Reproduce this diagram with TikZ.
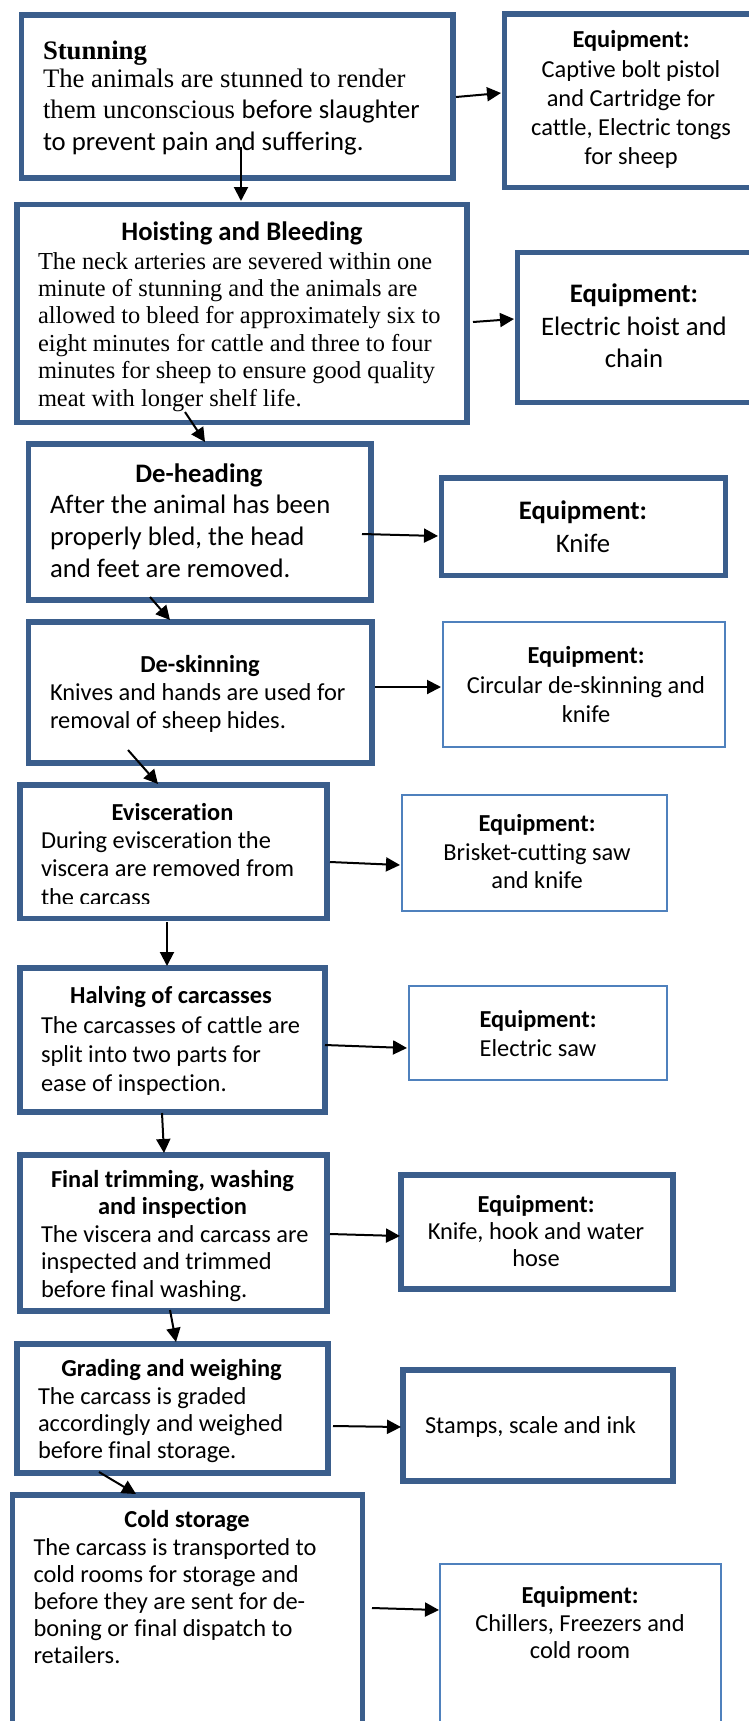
\documentclass[tikz,border=0pt]{standalone}
\usepackage{fontspec}
\setmainfont{Liberation Serif}
\newfontfamily\calibri[Ligatures=NoCommon]{Carlito}
\usetikzlibrary{arrows.meta}
\definecolor{boxblue}{RGB}{59,94,140}
\definecolor{thinblue}{RGB}{79,129,189}
\tikzset{
  tb/.style={draw=boxblue, line width=5.5pt, inner sep=0pt, outer sep=0pt, anchor=north west},
  nb/.style={draw=thinblue, line width=2.6pt, inner sep=0pt, outer sep=0pt, anchor=north west},
  flow/.style={line width=2pt, -{Triangle[length=14pt,width=14pt]}},
  txt/.style={inner sep=0pt, outer sep=0pt},
  cal/.style={txt, font={\calibri\fontsize{24.4}{#1}\selectfont}},
  cal/.default=28,
  calb/.style={txt, font={\calibri\bfseries\fontsize{24.4}{#1}\selectfont}},
  calb/.default=28,
  calL/.style={txt, font={\calibri\fontsize{26.7}{#1}\selectfont}},
  calL/.default=32,
  calLb/.style={txt, font={\calibri\bfseries\fontsize{26.7}{#1}\selectfont}},
  calLb/.default=32,
}
\begin{document}
\begin{tikzpicture}[x=1pt,y=-1pt]
\useasboundingbox (0,0) rectangle (749,1721);
% ---------- boxes ----------
\node[tb, minimum width=431.5pt, minimum height=163pt] (b1) at (21.5,15) {};
\node[tb, minimum width=270pt, minimum height=173.5pt] (e1) at (504.5,14) {};
\node[tb, minimum width=450pt, minimum height=218pt] (b2) at (17,204.5) {};
\node[tb, minimum width=258pt, minimum height=150pt] (e2) at (517.5,252.5) {};
\node[tb, minimum width=342.5pt, minimum height=156pt] (b3) at (28.5,444) {};
\node[tb, minimum width=284pt, minimum height=97.5pt] (e3) at (441.5,478) {};
\node[tb, minimum width=343.5pt, minimum height=141pt] (b4) at (28.5,622) {};
\node[nb, minimum width=282pt, minimum height=125pt] (e4) at (443,622) {};
\node[tb, minimum width=307pt, minimum height=133.5pt] (b5) at (20,785) {};
\node[nb, minimum width=265pt, minimum height=116pt] (e5) at (402,795) {};
\node[tb, minimum width=305pt, minimum height=144pt] (b6) at (20,968) {};
\node[nb, minimum width=258pt, minimum height=94pt] (e6) at (409,986) {};
\node[tb, minimum width=307pt, minimum height=156pt] (b7) at (20,1155) {};
\node[tb, minimum width=272pt, minimum height=114pt] (e7) at (401,1175) {};
\node[tb, minimum width=311pt, minimum height=129pt] (b8) at (17,1344) {};
\node[tb, minimum width=270pt, minimum height=111pt] (e8) at (403,1370) {};
\node[tb, minimum width=350pt, minimum height=250pt] (b9) at (12.5,1495) {};
\node[nb, minimum width=281pt, minimum height=180pt] (e9) at (440,1564) {};
% ---------- texts (multi-line nodes anchored on their last baseline) ----------
% Stunning
\node[txt, font={\bfseries\fontsize{26.7}{31.5}\selectfont}, anchor=base west] (t1) at (43,59) {Stunning};
\node[txt, font={\fontsize{26.7}{31.5}\selectfont}, align=left, anchor=base west] (t1b) at (43,150)
  {The animals are stunned to render\\them unconscious {\calibri before slaughter}\\{\calibri to prevent pain and suffering.}};
\node[calb, anchor=base] (q1) at (631,47) {Equipment:};
\node[cal=29, align=center, anchor=base] (q1b) at (631,164) {Captive bolt pistol\\and Cartridge for\\cattle, Electric tongs\\for sheep};
% Hoisting
\node[calLb, anchor=base] (t2) at (242,240) {Hoisting and Bleeding};
\node[txt, font={\fontsize{24.4}{27.4}\selectfont}, align=left, anchor=base west] (t2b) at (38,406)
  {The neck arteries are severed within one\\minute of stunning and the animals are\\allowed to bleed for approximately six to\\eight minutes for cattle and three to four\\minutes for sheep to ensure good quality\\meat with longer shelf life.};
\node[calLb, anchor=base] (q2) at (634,302) {Equipment:};
\node[calL=32.5, align=center, anchor=base] (q2b) at (634,367.5) {Electric hoist and\\chain};
% De-heading
\node[calLb, anchor=base] (t3) at (199,482) {De-heading};
\node[calL=32, align=left, anchor=base west] (t3b) at (50,577) {After the animal has been\\properly bled, the head\\and feet are removed.};
\node[calLb, anchor=base] (q3) at (583,519) {Equipment:};
\node[calL, anchor=base] (q3b) at (583,552) {Knife};
% De-skinning
\node[calb, anchor=base] (t4) at (200,672) {De-skinning};
\node[cal=28, align=left, anchor=base west] (t4b) at (50,728) {Knives and hands are used for\\removal of sheep hides.};
\node[calb, anchor=base] (q4) at (586,663) {Equipment:};
\node[cal=29, align=center, anchor=base] (q4b) at (586,722) {Circular de-skinning and\\knife};
% Evisceration
\node[calb, anchor=base] (t5) at (172.5,820) {Evisceration};
\begin{scope}
\clip (23,788) rectangle (324,903);
\node[cal=28.5, align=left, anchor=base west] (t5b) at (41,905) {During evisceration the\\viscera are removed from\\the carcass};
\end{scope}
\node[calb, anchor=base] (q5) at (537,831) {Equipment:};
\node[cal=28.5, align=center, anchor=base] (q5b) at (537,888.5) {Brisket-cutting saw\\and knife};
% Halving
\node[calb, anchor=base] (t6) at (171,1003) {Halving of carcasses};
\node[cal=29, align=left, anchor=base west] (t6b) at (41,1091) {The carcasses of cattle are\\split into two parts for\\ease of inspection.};
\node[calb, anchor=base] (q6) at (538,1027) {Equipment:};
\node[cal, anchor=base] (q6b) at (538,1056) {Electric saw};
% Final trimming
\node[calb=27, align=center, anchor=base] (t7) at (172.5,1214) {Final trimming, washing\\and inspection};
\node[cal=27.5, align=left, anchor=base west] (t7b) at (41,1297) {The viscera and carcass are\\inspected and trimmed\\before final washing.};
\node[calb, anchor=base] (q7) at (536,1212) {Equipment:};
\node[cal=27, align=center, anchor=base] (q7b) at (536,1266) {Knife, hook and water\\hose};
% Grading
\node[calb, anchor=base] (t8) at (171.5,1376) {Grading and weighing};
\node[cal=27, align=left, anchor=base west] (t8b) at (38,1458) {The carcass is graded\\accordingly and weighed\\before final storage.};
\node[cal, anchor=base west] (q8b) at (425,1433) {Stamps, scale and ink};
% Cold storage
\node[calb, anchor=base] (t9) at (187,1527) {Cold storage};
\node[cal=27, align=left, anchor=base west] (t9b) at (33.5,1663) {The carcass is transported to\\cold rooms for storage and\\before they are sent for de-\\boning or final dispatch to\\retailers.};
\node[calb, anchor=base] (q9) at (580,1603) {Equipment:};
\node[cal=27, align=center, anchor=base] (q9b) at (580,1658) {Chillers, Freezers and\\cold room};
% ---------- connectors ----------
\coordinate (a1s) at (241,147);  \coordinate (a1e) at (241,201);
\coordinate (a2s) at (456,97);   \coordinate (a2e) at (501,93);
\coordinate (a3s) at (473,322);  \coordinate (a3e) at (514,319);
\coordinate (a4s) at (185,412);  \coordinate (a4e) at (205,442);
\coordinate (a5s) at (362,534);  \coordinate (a5e) at (438,536);
\coordinate (a6s) at (150,597);  \coordinate (a6e) at (170,620);
\coordinate (a7s) at (375,687);  \coordinate (a7e) at (441,687);
\coordinate (a8s) at (128,750);  \coordinate (a8e) at (158,784);
\coordinate (a9s) at (330,862);  \coordinate (a9e) at (400,865);
\coordinate (a10s) at (167,922); \coordinate (a10e) at (167,966);
\coordinate (a11s) at (325,1045);\coordinate (a11e) at (407,1048);
\coordinate (a12s) at (162,1113);\coordinate (a12e) at (164,1153);
\coordinate (a13s) at (330,1234);\coordinate (a13e) at (400,1236);
\coordinate (a14s) at (170,1310);\coordinate (a14e) at (176,1342);
\coordinate (a15s) at (333,1426);\coordinate (a15e) at (401,1427);
\coordinate (a16s) at (99,1472); \coordinate (a16e) at (136,1494);
\coordinate (a17s) at (372,1608);\coordinate (a17e) at (439,1610);
\foreach \i in {1,...,17} {\draw[flow] (a\i s) -- (a\i e);}
\end{tikzpicture}
\end{document}
